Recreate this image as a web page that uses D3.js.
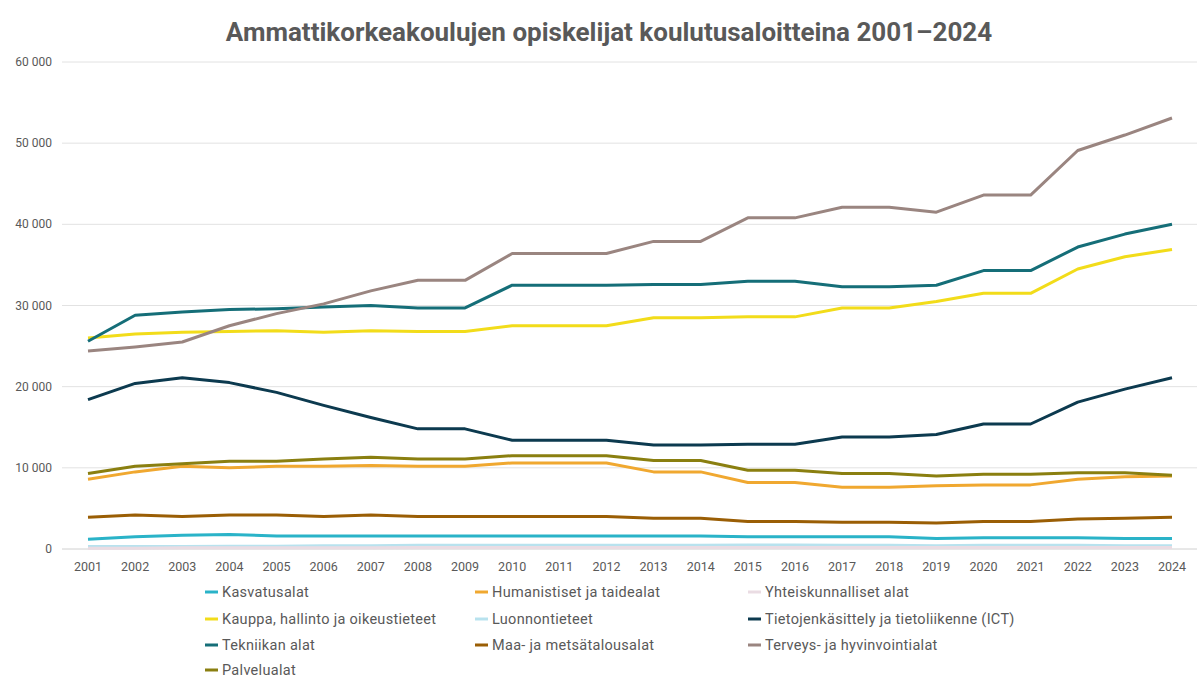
<!DOCTYPE html><html><head><meta charset="utf-8"><script src="https://cdn.jsdelivr.net/npm/d3@7"></script>
<style>body{margin:0;background:#fff}text{font-family:"Roboto",sans-serif}</style></head><body><svg id="c" width="1200" height="689"></svg><script>
const years=d3.range(2001,2025);
const yTicks=[0,10000,20000,30000,40000,50000,60000];
const seriesNames=["Kasvatusalat","Humanistiset ja taidealat","Yhteiskunnalliset alat","Kauppa, hallinto ja oikeustieteet","Luonnontieteet","Tietojenkäsittely ja tietoliikenne (ICT)","Tekniikan alat","Maa- ja metsätalousalat","Terveys- ja hyvinvointialat","Palvelualat"];
const colors=["#2ab3c8","#f0a830","#eadce3","#f2dc1a","#b8e2ee","#0c3a4f","#156e78","#9a5e05","#9a8580","#8a7f10"];
const kasvatus=[1200,1500,1700,1800,1600,1600,1600,1600,1600,1600,1600,1600,1600,1600,1500,1500,1500,1500,1300,1400,1400,1400,1300,1300];
const humanistiset=[8600,9500,10200,10000,10200,10200,10300,10200,10200,10600,10600,10600,9500,9500,8200,8200,7600,7600,7800,7900,7900,8600,8900,9000];
const yhteiskunnalliset=[100,100,150,150,150,150,150,200,200,200,200,200,200,200,200,200,200,200,200,200,200,200,200,200];
const kauppa=[26000,26500,26700,26800,26900,26700,26900,26800,26800,27500,27500,27500,28500,28500,28600,28600,29700,29700,30500,31500,31500,34500,36000,36900];
const luonnon=[300,300,300,350,350,400,400,450,450,450,450,450,450,450,500,500,450,450,400,450,450,450,400,400];
const ict=[18400,20400,21100,20500,19300,17700,16200,14800,14800,13400,13400,13400,12800,12800,12900,12900,13800,13800,14100,15400,15400,18100,19700,21100];
const tekniikka=[25600,28800,29200,29500,29600,29800,30000,29700,29700,32500,32500,32500,32600,32600,33000,33000,32300,32300,32500,34300,34300,37200,38800,40000];
const maa=[3900,4200,4000,4200,4200,4000,4200,4000,4000,4000,4000,4000,3800,3800,3400,3400,3300,3300,3200,3400,3400,3700,3800,3900];
const terveys=[24400,24900,25500,27500,29000,30200,31800,33100,33100,36400,36400,36400,37900,37900,40800,40800,42100,42100,41500,43600,43600,49100,51000,53100];
const palvelu=[9300,10200,10500,10800,10800,11100,11300,11100,11100,11500,11500,11500,10900,10900,9700,9700,9300,9300,9000,9200,9200,9400,9400,9100];
const values=[kasvatus,humanistiset,yhteiskunnalliset,kauppa,luonnon,ict,tekniikka,maa,terveys,palvelu];
const drawOrder=[4,2,0,7,1,9,5,3,6,8];
const svg=d3.select("#c");
const x=d3.scalePoint().domain(years).range([88,1172]);
const y=d3.scaleLinear().domain([0,60000]).range([549,62]);
svg.append("text").attr("x",609).attr("y",41).attr("text-anchor","middle").attr("font-size",26).attr("font-weight","bold").attr("fill","#595959").text("Ammattikorkeakoulujen opiskelijat koulutusaloitteina 2001–2024");
const g=svg.append("g");
g.selectAll(".grid").data(yTicks).join("line").attr("x1",62).attr("x2",1197).attr("y1",d=>y(d)).attr("y2",d=>y(d)).attr("stroke",d=>d===0?"#d0d0d0":"#e2e2e2");
const fmt=d=>d===0?"0":d3.format(",")(d).replace(","," ");
g.selectAll(".yl").data(yTicks).join("text").attr("x",52).attr("y",d=>y(d)+4).attr("text-anchor","end").attr("font-size",12).attr("fill","#595959").text(fmt);
g.selectAll(".xl").data(years).join("text").attr("x",d=>x(d)).attr("y",571).attr("text-anchor","middle").attr("font-size",12.5).attr("fill","#595959").text(d=>d);
const line=d3.line().x((d,i)=>x(years[i])).y(d=>y(d));
drawOrder.forEach(i=>g.append("path").attr("d",line(values[i])).attr("fill","none").attr("stroke",colors[i]).attr("stroke-width",3).attr("stroke-linejoin","round"));
const lx=[205,475,748],ly=[592,619,645,670];
seriesNames.forEach((n,i)=>{const cx=lx[i%3],cy=ly[Math.floor(i/3)];
svg.append("line").attr("x1",cx).attr("x2",cx+13).attr("y1",cy).attr("y2",cy).attr("stroke",colors[i]).attr("stroke-width",3);
svg.append("text").attr("x",cx+17).attr("y",cy+5).attr("font-size",14.5).attr("letter-spacing",0.3).attr("fill","#595959").text(n);});
</script></body></html>
